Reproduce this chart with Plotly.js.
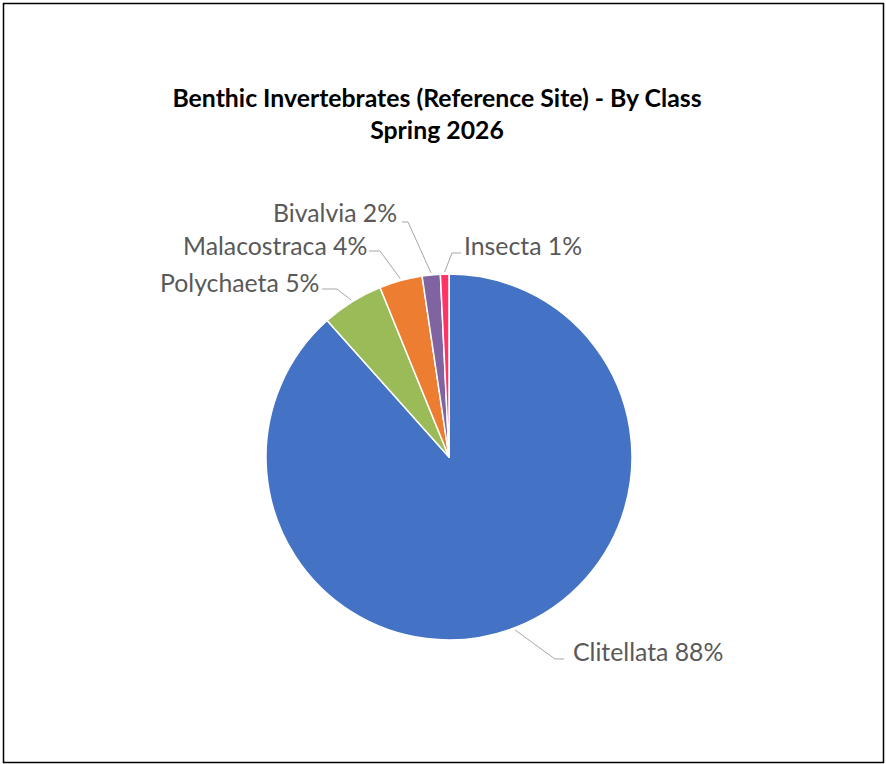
<!DOCTYPE html>
<html>
<head>
<meta charset="utf-8">
<script src="https://cdn.plot.ly/plotly-3.0.1.min.js"></script>
<style>html,body{margin:0;padding:0;background:#fff;}#chart{width:886px;height:764px;}</style>
</head>
<body>
<div id="chart"></div>
<script>
// ---- data ----
const classes = ["Clitellata", "Polychaeta", "Malacostraca", "Bivalvia", "Insecta"];
const shares = [88.4, 5.45, 3.8, 1.6, 0.75];
const sliceColors = ["#4472C4", "#9BBB59", "#ED7D31", "#8064A2", "#FF3366"];
const chartTitle = "Benthic Invertebrates (Reference Site) - By Class<br>Spring 2026";

// ---- layout (pixels) ----
const W = 886, H = 764;
const CX = 449, CY = 457, R = 183;
// label placement: text anchor x, text centre y, side, leader end/elbow x, leader y
const labelPlacement = [
  {tx: 571, ty: 651, side: "left",  endX: 564, elbowX: 555, ly: 659},
  {tx: 321, ty: 283, side: "right", endX: 322, elbowX: 337, ly: 289},
  {tx: 369, ty: 245, side: "right", endX: 369, elbowX: 380, ly: 251},
  {tx: 399, ty: 212, side: "right", endX: 402, elbowX: 408, ly: 222},
  {tx: 462, ty: 246, side: "left",  endX: 461, elbowX: 452, ly: 253}
];

const px = x => x / W;
const py = y => 1 - y / H;

const total = shares.reduce((a, b) => a + b, 0);
const shapes = [];
const annotations = [];
let cum = 0;
shares.forEach((v, i) => {
  const mid = (cum + v / 2) / total * 2 * Math.PI; // clockwise from 12 o'clock
  cum += v;
  const ex = CX + (R + 2) * Math.sin(mid);
  const ey = CY - (R + 2) * Math.cos(mid);
  const p = labelPlacement[i];
  const lc = {color: "#A6A6A6", width: 1};
  shapes.push({type: "line", xref: "paper", yref: "paper", x0: px(ex), y0: py(ey), x1: px(p.elbowX), y1: py(p.ly), line: lc});
  shapes.push({type: "line", xref: "paper", yref: "paper", x0: px(p.elbowX), y0: py(p.ly), x1: px(p.endX), y1: py(p.ly), line: lc});
  annotations.push({
    xref: "paper", yref: "paper", x: px(p.tx), y: py(p.ty),
    xanchor: p.side, yanchor: "middle", showarrow: false,
    text: classes[i] + " " + Math.round(v / total * 100) + "%",
    font: {family: "Lato, 'Open Sans', sans-serif", size: 24.8, color: "#595959"}
  });
});

// outer frame
shapes.push({type: "rect", xref: "paper", yref: "paper", x0: px(3.5), y0: py(3.5), x1: px(883.5), y1: py(762.5), line: {color: "#000000", width: 1.5}});

const data = [{
  type: "pie",
  labels: classes,
  values: shares,
  sort: false,
  direction: "clockwise",
  rotation: 0,
  textinfo: "none",
  hoverinfo: "label+percent",
  marker: {colors: sliceColors, line: {color: "#FFFFFF", width: 1.5}},
  domain: {x: [px(CX - R), px(CX + R)], y: [py(CY + R), py(CY - R)]},
  showlegend: false
}];

const layout = {
  width: W, height: H,
  margin: {l: 0, r: 0, t: 0, b: 0},
  paper_bgcolor: "#FFFFFF",
  showlegend: false,
  title: {
    text: chartTitle,
    font: {family: "Lato, 'Open Sans', sans-serif", size: 24.8, color: "#000000", weight: "bold"},
    x: 437 / W, xanchor: "center", xref: "container",
    y: 1 - 107 / H, yanchor: "top", yref: "container"
  },
  shapes: shapes,
  annotations: annotations
};

Plotly.newPlot("chart", data, layout, {displayModeBar: false, staticPlot: true});
</script>
</body>
</html>
